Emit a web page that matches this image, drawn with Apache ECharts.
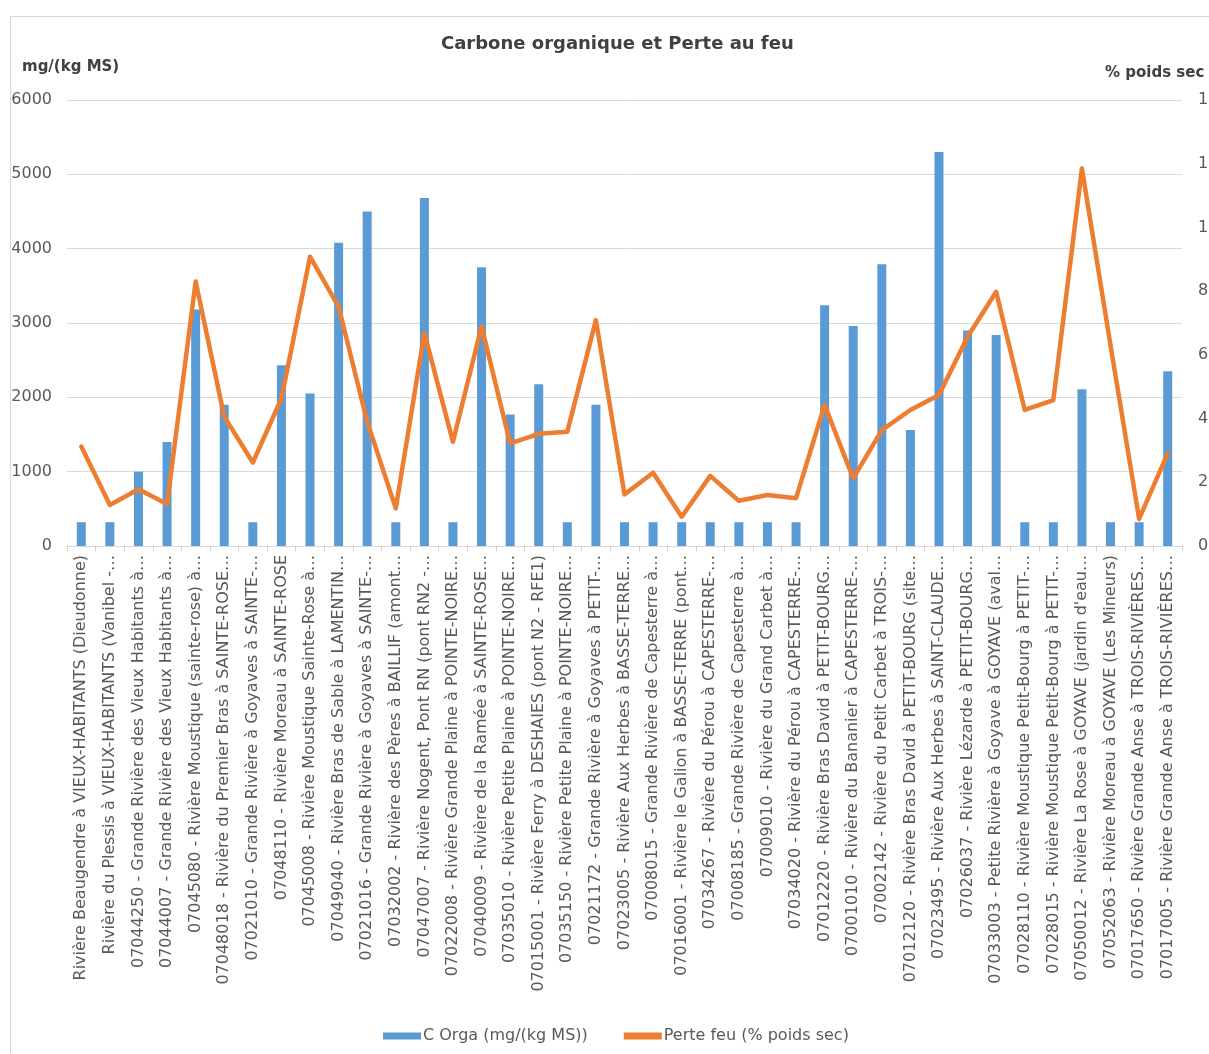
<!DOCTYPE html>
<html>
<head>
<meta charset="utf-8">
<title>Carbone organique et Perte au feu</title>
<script src="https://cdn.jsdelivr.net/npm/echarts@6/dist/echarts.min.js"></script>
<style>
  html, body { margin: 0; padding: 0; background: #ffffff; overflow: hidden; }
  #frame { position: absolute; left: 10px; top: 16px; width: 1260px; height: 1100px; border: 1px solid #d9d9d9; box-sizing: border-box; }
  #chart { position: absolute; left: 0; top: 0; width: 1209px; height: 1054px; }
</style>
</head>
<body>
<div id="frame"></div>
<div id="chart"></div>
<script>
// Stations (labels as shown on the axis, truncated where long)
const stations = [
  "Rivière Beaugendre à VIEUX-HABITANTS (Dieudonne)",
  "Rivière du Plessis à VIEUX-HABITANTS (Vanibel -…",
  "07044250 - Grande Rivière des Vieux Habitants à…",
  "07044007 - Grande Rivière des Vieux Habitants à…",
  "07045080 - Rivière Moustique (sainte-rose) à…",
  "07048018 - Rivière du Premier Bras à SAINTE-ROSE…",
  "07021010 - Grande Rivière à Goyaves à SAINTE-…",
  "07048110 - Rivière Moreau à SAINTE-ROSE",
  "07045008 - Rivière Moustique Sainte-Rose à…",
  "07049040 - Rivière Bras de Sable à LAMENTIN…",
  "07021016 - Grande Rivière à Goyaves à SAINTE-…",
  "07032002 - Rivière des Pères à BAILLIF (amont…",
  "07047007 - Rivière Nogent, Pont RN (pont RN2 -…",
  "07022008 - Rivière Grande Plaine à POINTE-NOIRE…",
  "07040009 - Rivière de la Ramée à SAINTE-ROSE…",
  "07035010 - Rivière Petite Plaine à POINTE-NOIRE…",
  "07015001 - Rivière Ferry à DESHAIES (pont N2 - RFE1)",
  "07035150 - Rivière Petite Plaine à POINTE-NOIRE…",
  "07021172 - Grande Rivière à Goyaves à PETIT-…",
  "07023005 - Rivière Aux Herbes à BASSE-TERRE…",
  "07008015 - Grande Rivière de Capesterre à…",
  "07016001 - Rivière le Galion à BASSE-TERRE (pont…",
  "07034267 - Rivière du Pérou à CAPESTERRE-…",
  "07008185 - Grande Rivière de Capesterre à…",
  "07009010 - Rivière du Grand Carbet à…",
  "07034020 - Rivière du Pérou à CAPESTERRE-…",
  "07012220 - Rivière Bras David à PETIT-BOURG…",
  "07001010 - Rivière du Bananier à CAPESTERRE-…",
  "07002142 - Rivière du Petit Carbet à TROIS-…",
  "07012120 - Rivière Bras David à PETIT-BOURG (site…",
  "07023495 - Rivière Aux Herbes à SAINT-CLAUDE…",
  "07026037 - Rivière Lézarde à PETIT-BOURG…",
  "07033003 - Petite Rivière à Goyave à GOYAVE (aval…",
  "07028110 - Rivière Moustique Petit-Bourg à PETIT-…",
  "07028015 - Rivière Moustique Petit-Bourg à PETIT-…",
  "07050012 - Rivière La Rose à GOYAVE (jardin d'eau…",
  "07052063 - Rivière Moreau à GOYAVE (Les Mineurs)",
  "07017650 - Rivière Grande Anse à TROIS-RIVIÈRES…",
  "07017005 - Rivière Grande Anse à TROIS-RIVIÈRES…"
];

// Organic carbon, mg/(kg MS)
const cOrga = [
  320, 320, 1000, 1400, 3180, 1900, 320, 2430, 2050, 4080,
  4500, 320, 4680, 320, 3750, 1770, 2175, 320, 1900, 320,
  320, 320, 320, 320, 320, 320, 3240, 2960, 3790, 1560,
  5300, 2900, 2840, 320, 320, 2110, 320, 320, 2350
];

// Loss on ignition, % dry weight
const perteFeu = [
  3.12, 1.29, 1.78, 1.32, 8.30, 4.06, 2.62, 4.63, 9.08, 7.51,
  3.90, 1.18, 6.68, 3.27, 6.90, 3.22, 3.52, 3.59, 7.09, 1.62,
  2.30, 0.92, 2.20, 1.42, 1.60, 1.50, 4.43, 2.12, 3.64, 4.27,
  4.74, 6.57, 7.98, 4.27, 4.58, 11.85, 6.30, 0.85, 2.91
];

const seriesNames = ["C Orga (mg/(kg MS))", "Perte feu (% poids sec)"];
const leftTicks = { min: 0, max: 6000, interval: 1000 };
const rightTicks = { min: 0, max: 14, interval: 2 };

const FONT = "'DejaVu Sans', 'Liberation Sans', Arial, sans-serif";
const GREY = "#595959";
const DARK = "#404040";

const chart = echarts.init(document.getElementById("chart"), null, { renderer: "canvas" });

chart.setOption({
  animation: false,
  backgroundColor: "transparent",
  textStyle: { fontFamily: FONT },
  title: {
    text: "Carbone organique et Perte au feu",
    left: 436,
    top: 30,
    textStyle: { fontSize: 18, fontWeight: "bold", color: DARK, fontFamily: FONT }
  },
  graphic: [
    {
      type: "text", left: 22, top: 60,
      style: { text: "mg/(kg MS)", font: "bold 15px " + FONT, fill: DARK }
    },
    {
      type: "text", left: 1105, top: 66,
      style: { text: "% poids sec", font: "bold 15px " + FONT, fill: DARK }
    }
  ],
  legend: {
    left: 378,
    top: 1023,
    itemWidth: 38,
    itemHeight: 7,
    itemGap: 36,
    textStyle: { fontSize: 16, color: GREY, fontFamily: FONT, padding: [0, 0, 0, -3] },
    data: [
      { name: seriesNames[0], icon: "rect" },
      { name: seriesNames[1], icon: "rect", itemStyle: { color: "#ED7D31" } }
    ]
  },
  grid: { left: 67, right: 27, top: 100, bottom: 508, containLabel: false, outerBoundsMode: "none" },
  xAxis: {
    type: "category",
    data: stations,
    boundaryGap: true,
    axisLine: { lineStyle: { color: "#d9d9d9", width: 1 } },
    axisTick: { show: true, length: 6, lineStyle: { color: "#a6a6a6", type: "dotted" } },
    axisLabel: {
      interval: 0,
      rotate: 90,
      fontSize: 16,
      color: GREY,
      fontFamily: FONT,
      margin: 9
    }
  },
  yAxis: [
    {
      type: "value",
      min: leftTicks.min, max: leftTicks.max, interval: leftTicks.interval,
      axisLine: { show: false },
      axisTick: { show: false },
      splitLine: { lineStyle: { color: "#d9d9d9", width: 1 } },
      axisLabel: { fontSize: 16, color: GREY, fontFamily: FONT, margin: 15, formatter: (v) => String(v) }
    },
    {
      type: "value",
      min: rightTicks.min, max: rightTicks.max, interval: rightTicks.interval,
      axisLine: { show: false },
      axisTick: { show: false },
      splitLine: { show: false },
      axisLabel: { fontSize: 16, color: GREY, fontFamily: FONT, margin: 16, formatter: (v) => String(v) }
    }
  ],
  series: [
    {
      name: seriesNames[0],
      type: "bar",
      yAxisIndex: 0,
      data: cOrga,
      barWidth: 9,
      itemStyle: { color: "#5B9BD5" },
      z: 2
    },
    {
      name: seriesNames[1],
      type: "line",
      yAxisIndex: 1,
      data: perteFeu,
      showSymbol: false,
      symbol: "none",
      lineStyle: { color: "#ED7D31", width: 4.5, join: "round", cap: "round" },
      itemStyle: { color: "#ED7D31" },
      z: 3
    }
  ]
});
</script>
</body>
</html>
